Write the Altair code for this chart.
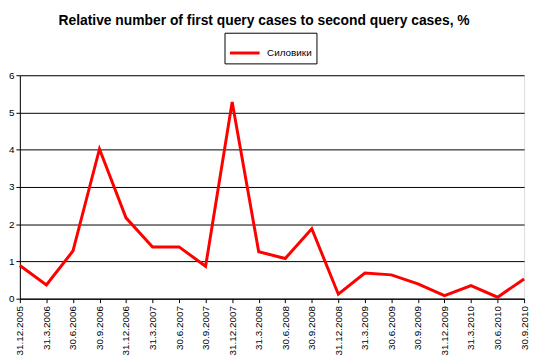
import altair as alt
import pandas as pd

dates = ["31.12.2005", "31.3.2006", "30.6.2006", "30.9.2006", "31.12.2006",
         "31.3.2007", "30.6.2007", "30.9.2007", "31.12.2007", "31.3.2008",
         "30.6.2008", "30.9.2008", "31.12.2008", "31.3.2009", "30.6.2009",
         "30.9.2009", "31.12.2009", "31.3.2010", "30.6.2010", "30.9.2010"]
values = [0.89, 0.37, 1.28, 4.02, 2.17, 1.39, 1.39, 0.87, 5.28, 1.26,
          1.08, 1.88, 0.12, 0.69, 0.64, 0.40, 0.08, 0.35, 0.04, 0.53]
series = ["Силовики"] * len(dates)

df = pd.DataFrame({"date": dates, "value": values, "series": series})

FONT = "Liberation Sans"

chart = alt.Chart(df).mark_line(strokeWidth=3, clip=False).encode(
    x=alt.X("date:N", sort=dates,
            scale=alt.Scale(type="point", padding=0),
            axis=alt.Axis(title=None, labelAngle=270, labelAlign="right",
                          labelBaseline="middle", labelFontSize=10,
                          labelPadding=3, tickSize=4, tickColor="black",
                          domainColor="black", labelColor="black",
                          grid=False, labelOverlap=False)),
    y=alt.Y("value:Q",
            scale=alt.Scale(domain=[0, 6], nice=False, zero=True),
            axis=alt.Axis(title=None, values=[0, 1, 2, 3, 4, 5, 6],
                          labelFontSize=10, tickSize=4, tickColor="black",
                          domainColor="black", labelColor="black",
                          gridColor="black", gridWidth=1, grid=True,
                          labelPadding=2)),
    color=alt.Color("series:N",
                    scale=alt.Scale(domain=["Силовики"], range=["#ff0000"]),
                    legend=alt.Legend(title=None, orient="none",
                                      legendX=207, legendY=-43,
                                      symbolType="stroke", symbolSize=900,
                                      symbolStrokeWidth=3,
                                      strokeColor="black", fillColor="white",
                                      padding=4, labelOffset=6,
                                      labelFontSize=10,
                                      labelColor="black")),
).properties(
    width=510,
    height=226,
    title=alt.TitleParams(
        "Relative number of first query cases to second query cases, %",
        fontSize=14, fontWeight="bold", font=FONT, color="black",
        anchor="middle", dx=-8, offset=4),
    autosize=alt.AutoSizeParams(type="none"),
    padding={"left": 12, "top": 66, "right": 8, "bottom": 60},
).configure_view(
    fill="#e3e3e3", stroke="#555555", strokeWidth=1
).configure(
    font=FONT, background="white"
)

chart.save("out.html", embed_options={"renderer": "svg", "actions": False})
